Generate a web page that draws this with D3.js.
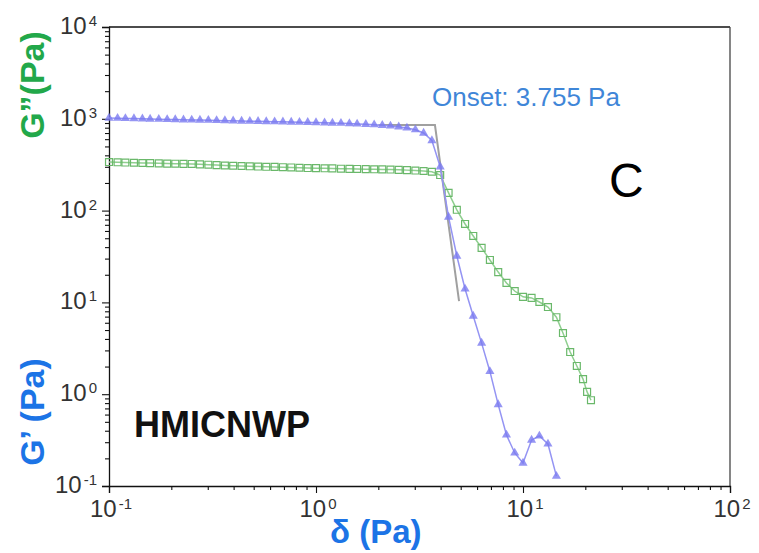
<!DOCTYPE html>
<html>
<head>
<meta charset="utf-8">
<script src="https://cdn.jsdelivr.net/npm/d3@7"></script>
<style>
  body { margin: 0; background: #fff; }
  svg text { font-family: "Liberation Sans", Arial, sans-serif; }
</style>
</head>
<body>
<div id="chart"></div>
<script>
// shear stress (Pa), same steps for both moduli
const stressPa = [0.1, 0.11, 0.12, 0.132, 0.145, 0.158, 0.174, 0.191, 0.209, 0.229,
  0.251, 0.275, 0.302, 0.331, 0.363, 0.398, 0.437, 0.479, 0.525, 0.575,
  0.631, 0.692, 0.759, 0.832, 0.912, 1.0, 1.1, 1.2, 1.32, 1.45,
  1.58, 1.74, 1.91, 2.09, 2.29, 2.51, 2.75, 3.02, 3.31, 3.63,
  3.98, 4.37, 4.79, 5.25, 5.75, 6.31, 6.92, 7.59, 8.32, 9.12,
  10.0, 11.0, 12.0, 13.2, 14.5];

// G' (storage modulus, Pa)
const gPrime = [1020, 1015, 1010, 1005, 1000, 995, 990, 985, 980, 975,
  972, 968, 965, 960, 955, 950, 946, 942, 938, 934,
  930, 926, 922, 918, 914, 910, 905, 900, 895, 888,
  880, 872, 862, 850, 836, 818, 795, 760, 700, 580,
  300, 85, 32, 14.0, 7.1, 3.6, 1.77, 0.77, 0.36, 0.229,
  0.178, 0.317, 0.351, 0.287, 0.128];

// G'' (loss modulus, Pa) - goes a few steps further than G'
const gDouble = [338, 336, 334, 332, 330, 329, 327, 325, 324, 323,
  322, 319, 316, 313, 310, 308, 306, 304, 302, 300,
  299, 297, 295, 293, 291, 290, 289, 288, 286, 285,
  284, 283, 282, 281, 280, 278, 276, 273, 270, 265,
  244, 156, 102, 71.5, 52.9, 39.2, 29.0, 21.4, 16.3, 13.3,
  11.5, 11.2, 10.1, 8.9, 6.9];
const gDoubleTailStress = [15.6, 16.9, 18.2, 19.5, 20.4, 21.3];
const gDoubleTail = [4.64, 2.88, 2.03, 1.46, 1.06, 0.86];

// onset tangent construction
const onsetX = [2.0, 3.755, 4.91];
const onsetY = [855, 855, 10.3];

const xDecades = [0.1, 1, 10, 100];
const yDecades = [0.1, 1, 10, 100, 1000, 10000];

const width = 759, height = 553;
const margin = {top: 27, right: 29, bottom: 67, left: 109};

const svg = d3.select("#chart").append("svg")
  .attr("width", width)
  .attr("height", height);

const x = d3.scaleLog().domain([0.1, 100]).range([margin.left, width - margin.right]);
const y = d3.scaleLog().domain([0.1, 10000]).range([height - margin.bottom, margin.top]);

function minorTicks(decades) {
  let out = [];
  for (let k = 0; k < decades.length - 1; k++) {
    for (let m = 2; m <= 9; m++) out.push(decades[k] * m);
  }
  return out;
}

// frame
svg.append("line")
  .attr("x1", x(0.1)).attr("x2", x(100))
  .attr("y1", y(10000)).attr("y2", y(10000))
  .attr("stroke", "#111").attr("stroke-width", 1.3);
svg.append("line")
  .attr("x1", x(100)).attr("x2", x(100))
  .attr("y1", y(10000)).attr("y2", y(0.1))
  .attr("stroke", "#444").attr("stroke-width", 1.3);

// axes
svg.append("g")
  .attr("transform", `translate(0,${y(0.1)})`)
  .call(d3.axisBottom(x).tickValues(xDecades).tickSize(7).tickFormat(""));
svg.append("g")
  .attr("transform", `translate(0,${y(0.1)})`)
  .call(d3.axisBottom(x).tickValues(minorTicks(xDecades)).tickSize(4).tickFormat(""))
  .select(".domain").remove();

svg.append("g")
  .attr("transform", `translate(${x(0.1)},0)`)
  .call(d3.axisLeft(y).tickValues(yDecades).tickSize(7).tickFormat(""));
svg.append("g")
  .attr("transform", `translate(${x(0.1)},0)`)
  .call(d3.axisLeft(y).tickValues(minorTicks(yDecades)).tickSize(4).tickFormat(""))
  .select(".domain").remove();

svg.selectAll(".domain").attr("stroke", "#111").attr("stroke-width", 1.3);
svg.selectAll(".tick line").attr("stroke", "#111").attr("stroke-width", 1.1);

function powLabel(sel, v) {
  const e = Math.round(Math.log10(v));
  sel.append("tspan").text("10");
  sel.append("tspan").attr("font-size", 15).attr("dy", -8).attr("dx", 2).text(e);
}

xDecades.forEach(v => {
  svg.append("text")
    .attr("x", x(v) + 2).attr("y", y(0.1) + 31)
    .attr("text-anchor", "middle")
    .attr("font-size", 24).attr("fill", "#333")
    .call(powLabel, v);
});
yDecades.forEach(v => {
  svg.append("text")
    .attr("x", x(0.1) - 12).attr("y", y(v) + 7)
    .attr("text-anchor", "end")
    .attr("font-size", 24).attr("fill", "#333")
    .call(powLabel, v);
});

// series
const gDoubleStress = stressPa.concat(gDoubleTailStress);
const gDoubleAll = gDouble.concat(gDoubleTail);
const gDoublePts = gDoubleStress.map((s, i) => [s, gDoubleAll[i]]);
const gPrimePts = stressPa.map((s, i) => [s, gPrime[i]]);

const line = d3.line().x(d => x(d[0])).y(d => y(d[1]));

svg.append("path").datum(gDoublePts)
  .attr("d", line).attr("fill", "none")
  .attr("stroke", "#8fcf8f").attr("stroke-width", 1.5);
svg.selectAll(".sq").data(gDoublePts).enter().append("path")
  .attr("class", "sq")
  .attr("transform", d => `translate(${x(d[0])},${y(d[1])})`)
  .attr("d", d3.symbol().type(d3.symbolSquare).size(48))
  .attr("fill", "none").attr("stroke", "#6ab86a").attr("stroke-width", 1.2);

svg.append("path").datum(onsetX.map((s, i) => [s, onsetY[i]]))
  .attr("d", line).attr("fill", "none")
  .attr("stroke", "#a0a0a0").attr("stroke-width", 2);

svg.append("path").datum(gPrimePts)
  .attr("d", line).attr("fill", "none")
  .attr("stroke", "#9494f3").attr("stroke-width", 1.5);
svg.selectAll(".tri").data(gPrimePts).enter().append("path")
  .attr("class", "tri")
  .attr("transform", d => `translate(${x(d[0])},${y(d[1])})`)
  .attr("d", d3.symbol().type(d3.symbolTriangle).size(36))
  .attr("fill", "#7a7af0").attr("fill-opacity", 0.8);

// annotations
svg.append("text")
  .attr("x", 432).attr("y", 106)
  .attr("font-size", 26).attr("fill", "#3f86d8")
  .text("Onset: 3.755 Pa");
svg.append("text")
  .attr("x", 609).attr("y", 197)
  .attr("font-size", 48).attr("fill", "#000")
  .text("C");
svg.append("text")
  .attr("x", 134).attr("y", 437)
  .attr("font-size", 36).attr("font-weight", "bold").attr("fill", "#111")
  .text("HMICNWP");

// axis titles
svg.append("text")
  .attr("x", 330).attr("y", 543)
  .attr("font-size", 33).attr("font-weight", "bold").attr("fill", "#1c74e6")
  .text("δ (Pa)");
svg.append("text")
  .attr("transform", "translate(44,85) rotate(-90)")
  .attr("text-anchor", "middle")
  .attr("font-size", 34).attr("font-weight", "bold").attr("fill", "#22a84a")
  .text("G\u201D(Pa)");
svg.append("text")
  .attr("transform", "translate(44,412) rotate(-90)")
  .attr("text-anchor", "middle")
  .attr("font-size", 34).attr("font-weight", "bold").attr("fill", "#1c74e6")
  .text("G\u2019 (Pa)");
</script>
</body>
</html>
